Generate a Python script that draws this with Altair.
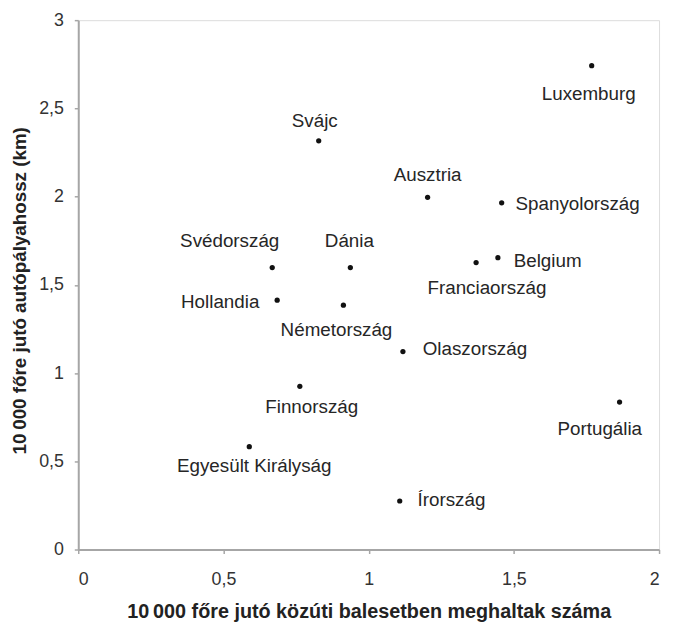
import altair as alt
import pandas as pd

countries = ["Luxemburg", "Svájc", "Ausztria", "Spanyolország", "Svédország", "Dánia",
             "Franciaország", "Belgium", "Hollandia", "Németország", "Olaszország",
             "Finnország", "Portugália", "Egyesült Királyság", "Írország"]
deaths = [1.768, 0.828, 1.203, 1.458, 0.668, 0.937, 1.370, 1.445, 0.685, 0.913, 1.118, 0.763, 1.864, 0.589, 1.107]
motorway = [2.742, 2.316, 1.996, 1.965, 1.598, 1.598, 1.626, 1.654, 1.413, 1.385, 1.122, 0.925, 0.836, 0.583, 0.275]

x_ticks = [0, 0.5, 1, 1.5, 2]
y_ticks = [0, 0.5, 1, 1.5, 2, 2.5, 3]

# label placement (dx, dy, align) relative to each point
placement = {
    "Luxemburg": (-3, 29, "center"),
    "Svájc": (-4, -20, "center"),
    "Ausztria": (0, -23, "center"),
    "Spanyolország": (14, 1, "left"),
    "Svédország": (-43, -27, "center"),
    "Dánia": (-1, -27, "center"),
    "Franciaország": (11, 26, "center"),
    "Belgium": (16, 3, "left"),
    "Hollandia": (-18, 2, "right"),
    "Németország": (-7, 25, "center"),
    "Olaszország": (20, -2, "left"),
    "Finnország": (12, 21, "center"),
    "Portugália": (-20, 27, "center"),
    "Egyesült Királyság": (5, 20, "center"),
    "Írország": (18, -1, "left"),
}

df = pd.DataFrame({"country": countries, "deaths": deaths, "motorway": motorway})

FONT = "Liberation Sans"
GRAY = "#a6a6a6"
comma = "replace(toString(datum.value), '.', ',')"

W, H = 587, 535

x_enc = alt.X("deaths:Q", scale=alt.Scale(domain=[0, 2], nice=False),
              axis=alt.Axis(values=x_ticks, labelExpr=comma,
                            title="10\u2009000  főre jutó közúti balesetben meghaltak száma",
                            grid=False, tickSize=4, labelPadding=26, labelBaseline="middle",
                            domainColor=GRAY, domainWidth=2, tickColor=GRAY, tickWidth=1.5,
                            labelFont=FONT, labelFontSize=18, labelColor="#333333",
                            titleFont=FONT, titleFontSize=20, titleFontWeight="bold",
                            titleColor="#222222", titleBaseline="middle",
                            titleX=W / 2, titleY=63))
y_enc = alt.Y("motorway:Q", scale=alt.Scale(domain=[0, 3], nice=False),
              axis=alt.Axis(values=y_ticks, labelExpr=comma,
                            title="10\u2009000 főre jutó autópályahossz (km)",
                            grid=False, tickSize=4, labelPadding=11,
                            domainColor=GRAY, domainWidth=2, tickColor=GRAY, tickWidth=1.5,
                            labelFont=FONT, labelFontSize=18, labelColor="#333333",
                            titleFont=FONT, titleFontSize=19, titleFontWeight="bold",
                            titleColor="#222222", titleBaseline="middle",
                            titleX=-59, titleY=273))

base = alt.Chart(df)
points = base.mark_point(filled=True, shape="circle", size=28, color="#111111", opacity=1).encode(
    x=x_enc, y=y_enc)

layers = [points]
for name in countries:
    dx, dy, align = placement[name]
    layers.append(
        base.transform_filter(alt.datum.country == name)
        .mark_text(dx=dx, dy=dy, align=align, baseline="middle", font=FONT,
                   fontSize=19, color="#262626")
        .encode(x="deaths:Q", y="motorway:Q", text="country:N")
    )

chart = alt.layer(*layers).properties(
    width=W, height=H,
    autosize=alt.AutoSizeParams(type="none"),
    padding={"left": 71, "top": 9, "right": 6, "bottom": 74},
).configure_view(stroke=GRAY, strokeWidth=2).configure(background="white")

chart.save("out.html", embed_options={"renderer": "svg", "actions": False})
